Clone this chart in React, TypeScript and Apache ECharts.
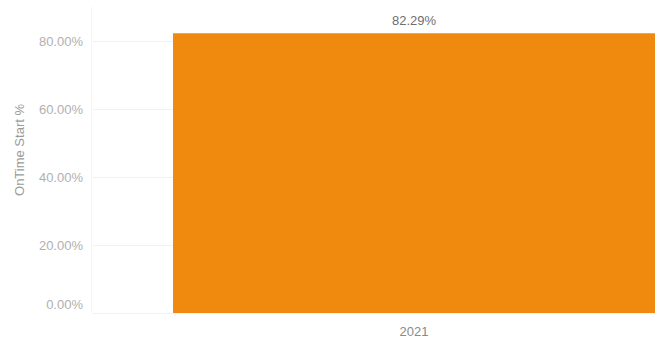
import React, { useEffect, useRef } from "react";
import * as echarts from "echarts";

const categories: string[] = ["2021"];
const onTimeStart: number[] = [82.29];
const yTicks: number[] = [0, 20, 40, 60, 80];
const yAxisTitle = "OnTime Start %";

const FONT = "'Liberation Sans', Arial, sans-serif";

export default function App() {
  const ref = useRef<HTMLDivElement>(null);
  useEffect(() => {
    if (!ref.current) return;
    const chart = echarts.init(ref.current, undefined, { renderer: "svg" });
    const top = 7;
    const bottom = 31;
    const yMax = 90;
    chart.setOption({
      animation: false,
      backgroundColor: "#ffffff",
      grid: [
        { left: 93, right: 2, top, bottom, containLabel: false },
        { left: 173, right: 2, top, bottom, containLabel: false },
      ],
      xAxis: [
        {
          gridIndex: 0,
          type: "category",
          data: categories,
          show: false,
        },
        {
          gridIndex: 1,
          type: "category",
          data: categories,
          axisLine: { show: false },
          axisTick: { show: false },
          axisLabel: {
            color: "#8a8a8a",
            fontFamily: FONT,
            fontSize: 13,
            margin: 12,
          },
        },
      ],
      yAxis: [
        {
          gridIndex: 0,
          type: "value",
          min: 0,
          max: yMax,
          interval: 20,
          axisLine: { show: false },
          axisTick: { show: false },
          splitLine: {
            show: true,
            showMaxLine: false,
            lineStyle: { color: "#f1f1f1", width: 1 },
          },
          axisLabel: {
            showMaxLabel: false,
            margin: 10,
            fontFamily: FONT,
            fontSize: 13,
            color: "#b0b0b0",
            formatter: (v: number) =>
              yTicks.includes(v)
                ? v === 0
                  ? "{z|" + v.toFixed(2) + "%}"
                  : v.toFixed(2) + "%"
                : "",
            rich: {
              z: {
                fontFamily: FONT,
                fontSize: 13,
                color: "#b0b0b0",
                padding: [0, 0, 18, 0],
              },
            },
          },
        },
        {
          gridIndex: 1,
          type: "value",
          min: 0,
          max: yMax,
          interval: 20,
          show: false,
          splitLine: { show: false },
        },
      ],
      graphic: [
        {
          type: "text",
          x: 19,
          y: 150,
          rotation: Math.PI / 2,
          style: {
            text: yAxisTitle,
            fill: "#9a9a9a",
            font: "13px " + FONT,
            align: "center",
            verticalAlign: "middle",
          },
        },
        {
          type: "line",
          shape: { x1: 91.5, y1: top, x2: 91.5, y2: 344 - bottom },
          style: { stroke: "#f4f4f4", lineWidth: 1 },
        },
      ],
      series: [
        {
          type: "bar",
          xAxisIndex: 1,
          yAxisIndex: 1,
          data: onTimeStart,
          barWidth: "100%",
          itemStyle: { color: "#F08A0E" },
          label: {
            show: true,
            position: "top",
            distance: 6,
            formatter: (p: any) => p.value.toFixed(2) + "%",
            color: "#6e6e6e",
            fontFamily: FONT,
            fontSize: 13,
          },
        },
      ],
    });
    return () => chart.dispose();
  }, []);
  return <div ref={ref} style={{ width: 657, height: 344, position: "absolute", left: 0, top: 0 }} />;
}
